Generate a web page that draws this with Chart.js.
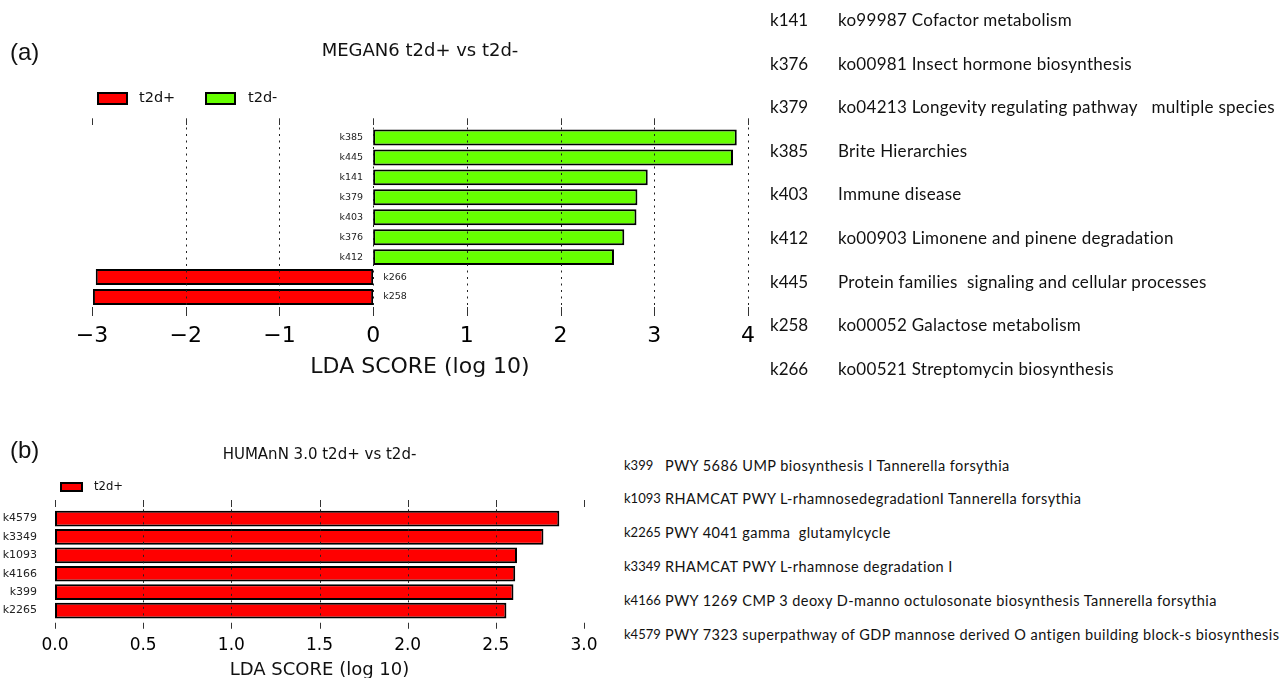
<!DOCTYPE html>
<html>
<head>
<meta charset="utf-8">
<script src="https://cdn.jsdelivr.net/npm/chart.js@4.4.0/dist/chart.umd.min.js"></script>
<style>
  html, body { margin: 0; padding: 0; background: #fff; }
  body { width: 1282px; height: 678px; position: relative; overflow: hidden; }
  canvas { position: absolute; }
  #graficoA { left: 0; top: 0; }
  #graficoB { left: 0; top: 430px; }
  .letra { position: absolute; left: 10px; font-family: 'Liberation Sans', Arial, sans-serif; font-size: 24px; color: #111; line-height: 26px; }
  .lista { position: absolute; font-family: Lato, 'Open Sans', sans-serif; color: #111; }
  .lista .linha { position: absolute; left: 0; white-space: pre; }
  .lista .cod { position: absolute; left: 0; }
  #listaA { left: 770px; top: 0; font-size: 17px; }
  #listaA .desc { letter-spacing: 0.28px; }
  #listaB { left: 624px; top: 0; font-size: 14.5px; }
  #listaB .cod { font-size: 13px; }
  #listaB .desc { letter-spacing: 0.45px; }
</style>
</head>
<body>
<canvas id="graficoA" width="772" height="397"></canvas>
<canvas id="graficoB" width="614" height="251"></canvas>
<div class="letra" style="top:39px">(a)</div>
<div class="letra" style="top:437px">(b)</div>
<div class="lista" id="listaA"></div>
<div class="lista" id="listaB"></div>

<script>
// painel (a) - MEGAN6
const categoriasA = ['k385', 'k445', 'k141', 'k379', 'k403', 'k376', 'k412', 'k266', 'k258'];
const t2dMenosA = [3.88, 3.84, 2.93, 2.82, 2.81, 2.68, 2.57, null, null];
const t2dMaisA = [null, null, null, null, null, null, null, -2.96, -2.99];

// painel (b) - HUMAnN 3.0
const categoriasB = ['k4579', 'k3349', 'k1093', 'k4166', 'k399', 'k2265'];
const t2dMaisB = [2.86, 2.77, 2.62, 2.61, 2.60, 2.56];

// legendas laterais
const codigosA = ['k141', 'k376', 'k379', 'k385', 'k403', 'k412', 'k445', 'k258', 'k266'];
const descricoesA = [
  'ko99987 Cofactor metabolism',
  'ko00981 Insect hormone biosynthesis',
  'ko04213 Longevity regulating pathway   multiple species',
  'Brite Hierarchies',
  'Immune disease',
  'ko00903 Limonene and pinene degradation',
  'Protein families  signaling and cellular processes',
  'ko00052 Galactose metabolism',
  'ko00521 Streptomycin biosynthesis'
];
const codigosB = ['k399', 'k1093', 'k2265', 'k3349', 'k4166', 'k4579'];
const descricoesB = [
  'PWY 5686 UMP biosynthesis I Tannerella forsythia',
  'RHAMCAT PWY L-rhamnosedegradationI Tannerella forsythia',
  'PWY 4041 gamma  glutamylcycle',
  'RHAMCAT PWY L-rhamnose degradation I',
  'PWY 1269 CMP 3 deoxy D-manno octulosonate biosynthesis Tannerella forsythia',
  'PWY 7323 superpathway of GDP mannose derived O antigen building block-s biosynthesis'
];

const VERMELHO = '#ff0000';
const VERDE = '#66ff00';

Chart.defaults.font.family = "'DejaVu Sans', sans-serif";
Chart.defaults.color = '#111';

// ticks curtos em cima/embaixo, grade pontilhada, rótulos ao lado das barras, legenda
const marcasPlugin = {
  id: 'marcas',
  afterDatasetsDraw(chart, args, o) {
    const { ctx, chartArea: a, scales: { x, y } } = chart;
    ctx.save();
    // grade pontilhada por cima das barras
    ctx.strokeStyle = '#222';
    ctx.lineWidth = 1;
    ctx.setLineDash([2, 4.5]);
    x.ticks.forEach(t => {
      if (o.semGrade.includes(t.value)) return;
      const px = Math.round(x.getPixelForValue(t.value)) + 0.5;
      ctx.beginPath();
      ctx.moveTo(px, a.top);
      ctx.lineTo(px, a.bottom);
      ctx.stroke();
    });
    ctx.setLineDash([]);
    // marcas dos ticks
    ctx.strokeStyle = '#333';
    x.ticks.forEach(t => {
      const px = Math.round(x.getPixelForValue(t.value)) + 0.5;
      ctx.beginPath();
      ctx.moveTo(px, a.top + o.topo[0]);
      ctx.lineTo(px, a.top + o.topo[1]);
      ctx.moveTo(px, a.bottom + o.base[0]);
      ctx.lineTo(px, a.bottom + o.base[1]);
      ctx.stroke();
    });
    // rótulos das categorias junto ao zero
    const zero = x.getPixelForValue(0);
    ctx.font = o.fonteRotulo;
    ctx.fillStyle = '#222';
    ctx.textBaseline = 'middle';
    chart.data.labels.forEach((lab, i) => {
      let v = null;
      chart.data.datasets.forEach(ds => { if (ds.data[i] != null) v = ds.data[i]; });
      const py = y.getPixelForValue(i);
      if (v >= 0) {
        ctx.textAlign = 'right';
        ctx.fillText(lab, zero - o.folga, py);
      } else {
        ctx.textAlign = 'left';
        ctx.fillText(lab, zero + o.folga, py);
      }
    });
    // legenda
    const L = o.legenda;
    ctx.font = L.fonte;
    ctx.textAlign = 'left';
    chart.data.datasets.forEach((ds, i) => {
      const bx = L.x[i];
      ctx.fillStyle = ds.backgroundColor;
      ctx.fillRect(bx, L.y, L.w, L.h);
      ctx.strokeStyle = '#000';
      ctx.lineWidth = 2;
      ctx.strokeRect(bx + 1, L.y + 1, L.w - 2, L.h - 2);
      ctx.fillStyle = '#111';
      ctx.fillText(ds.label, L.textoX[i], L.y + L.h / 2);
    });
    ctx.restore();
  }
};

function menos(v) {
  return v < 0 ? '\u2212' + Math.abs(v) : String(v);
}

new Chart(document.getElementById('graficoA'), {
  type: 'bar',
  data: {
    labels: categoriasA,
    datasets: [
      { label: 't2d+', data: t2dMaisA, backgroundColor: VERMELHO },
      { label: 't2d-', data: t2dMenosA, backgroundColor: VERDE }
    ]
  },
  options: {
    indexAxis: 'y',
    responsive: false,
    animation: false,
    layout: { padding: { left: 92, right: 24, top: 0, bottom: 16.8 } },
    datasets: {
      bar: {
        borderColor: '#000', borderWidth: 2, borderSkipped: false,
        barPercentage: 0.8, categoryPercentage: 1
      }
    },
    scales: {
      x: {
        min: -3, max: 4,
        grid: { display: false, drawTicks: false },
        border: { display: false },
        ticks: { stepSize: 1, padding: 16.3, maxRotation: 0, color: '#000', font: { size: 22 }, callback: menos },
        title: { display: true, text: 'LDA SCORE (log 10)', color: '#111', font: { size: 22 }, padding: { top: -12.2, bottom: 0 } }
      },
      y: { stacked: true, display: false }
    },
    plugins: {
      legend: { display: false },
      tooltip: { enabled: false },
      title: {
        display: true, text: 'MEGAN6 t2d+ vs t2d-', color: '#111',
        font: { size: 18, weight: 'normal' }, padding: { top: 41, bottom: 64.9 }
      },
      marcas: {
        semGrade: [-3],
        topo: [-9.2, -2.5], base: [0, 9],
        fonteRotulo: "9.5px 'DejaVu Sans'", folga: 10,
        legenda: { x: [97, 205], textoX: [139, 248], y: 92, w: 31, h: 13, fonte: "14.5px 'DejaVu Sans'" }
      }
    }
  },
  plugins: [marcasPlugin]
});

new Chart(document.getElementById('graficoB'), {
  type: 'bar',
  data: {
    labels: categoriasB,
    datasets: [
      { label: 't2d+', data: t2dMaisB, backgroundColor: VERMELHO }
    ]
  },
  options: {
    indexAxis: 'y',
    responsive: false,
    animation: false,
    layout: { padding: { left: 55, right: 30, top: 0, bottom: 0.2 } },
    datasets: {
      bar: {
        borderColor: '#000', borderWidth: 2, borderSkipped: false,
        barPercentage: 0.855, categoryPercentage: 1
      }
    },
    scales: {
      x: {
        min: 0, max: 3,
        grid: { display: false, drawTicks: false },
        border: { display: false },
        ticks: { stepSize: 0.5, padding: 16.05, maxRotation: 0, color: '#000', font: { size: 17 }, callback: v => v.toFixed(1) },
        title: { display: true, text: 'LDA SCORE (log 10)', color: '#111', font: { size: 18 }, padding: { top: -13.05, bottom: 0 } }
      },
      y: { display: false }
    },
    plugins: {
      legend: { display: false },
      tooltip: { enabled: false },
      title: {
        display: true, text: 'HUMAnN 3.0 t2d+ vs t2d-', color: '#111',
        font: { size: 15, weight: 'normal' }, padding: { top: 16, bottom: 45.35 }
      },
      marcas: {
        semGrade: [0, 3],
        topo: [-9.35, -2.35], base: [3, 9],
        fonteRotulo: "11px 'DejaVu Sans'", folga: 18,
        legenda: { x: [60], textoX: [94], y: 52, w: 23, h: 10, fonte: "11.6px 'DejaVu Sans'" }
      }
    }
  },
  plugins: [marcasPlugin]
});

// listas de descrição à direita
function montaLista(id, codigos, descricoes, topo, passo, recuo) {
  const caixa = document.getElementById(id);
  codigos.forEach((c, i) => {
    const linha = document.createElement('div');
    linha.className = 'linha';
    linha.style.top = (topo + i * passo) + 'px';
    linha.innerHTML = '<span class="cod">' + c + '</span><span class="desc" style="position:absolute;left:' + recuo + 'px">' + descricoes[i] + '</span>';
    caixa.appendChild(linha);
  });
}
montaLista('listaA', codigosA, descricoesA, 9, 43.6, 68);
montaLista('listaB', codigosB, descricoesB, 456.5, 33.8, 41);
</script>
</body>
</html>
